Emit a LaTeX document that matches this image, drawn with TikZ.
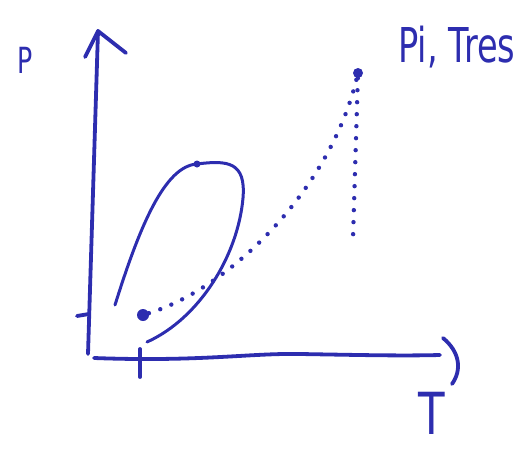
\documentclass[tikz,border=0pt]{standalone}
\usepackage{fontspec}
\usepackage{graphicx}
\setmainfont{DejaVu Sans}
\definecolor{ink}{RGB}{45,45,175}
\begin{document}
\begin{tikzpicture}[x=1pt,y=-1pt,
  pen/.style={draw=ink,line width=3.8pt,line cap=round,line join=round},
  thin pen/.style={draw=ink,line width=3pt,line cap=round},
  dots/.style={draw=ink,line width=4.4pt,line cap=round,dash pattern=on 0pt off 12pt},
  blob/.style={circle,fill=ink,inner sep=0pt,minimum size=#1},
  lbl/.style={text=ink,inner sep=0pt}]
\useasboundingbox (0,0) rectangle (525,453);
% axes
\coordinate (yb) at (88,354);
\coordinate (yt) at (98,31);
\coordinate (xl) at (94,358);
\coordinate (xr) at (440,355);
\draw[pen] (yb) -- (yt);
\draw[pen] (85,57) -- (yt) -- (126,53);
\draw[pen] (xl) .. controls (200,362) and (250,353) .. (300,354) .. controls (360,355) and (400,356) .. (xr);
\draw[pen] (443,338) .. controls (460,352) and (462,370) .. (452,384);
% ticks
\draw[pen] (140,349) -- (140,377);
\draw[pen] (77,316) -- (89,314);
% labels
\node[lbl,font=\fontsize{36}{36}\selectfont] (P) at (25,60) {\scalebox{0.7}[1]{P}};
\node[lbl,font=\fontsize{58}{58}\selectfont] (T) at (432,413) {\scalebox{0.75}[1]{T}};
\node[lbl,font=\fontsize{48}{48}\selectfont,anchor=base west] (PT) at (398,62) {\scalebox{0.7}[1]{Pi, Tres}};
% points
\node[blob=12pt] (A) at (143,315) {};
\node[blob=10pt] (B) at (358,73) {};
\node[blob=7pt] (C) at (197,164) {};
\coordinate (D) at (353,238);
% loop
\draw[thin pen] (115,305) .. controls (140,225) and (165,166) .. (C.center)
  .. controls (228,160) and (246,162) .. (243,198)
  .. controls (238,255) and (200,318) .. (147,342);
% dotted paths
\draw[dots] (A) .. controls (230,288) and (330,190) .. (B);
\draw[dots] (B) -- (D);
\end{tikzpicture}
\end{document}
